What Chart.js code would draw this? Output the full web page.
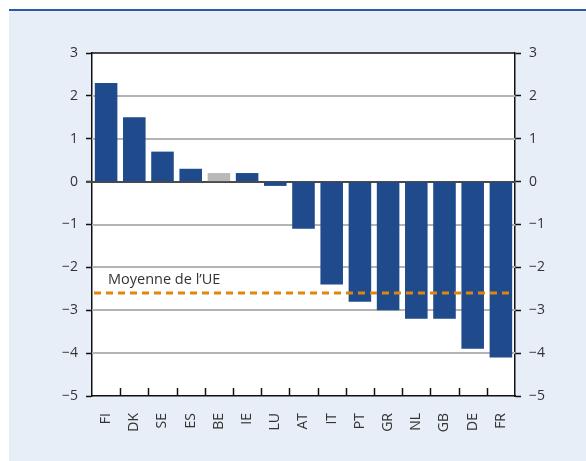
<!DOCTYPE html>
<html>
<head>
<meta charset="utf-8">
<script src="https://cdn.jsdelivr.net/npm/chart.js@4.4.1/dist/chart.umd.min.js"></script>
<style>
  html, body { margin: 0; padding: 0; background: #fff; }
  #wrap { width: 586px; height: 461px; position: relative; }
</style>
</head>
<body>
<div id="wrap"><canvas id="myChart"></canvas></div>
<script>
'use strict';

const countries = ['FI', 'DK', 'SE', 'ES', 'BE', 'IE', 'LU', 'AT', 'IT', 'PT', 'GR', 'NL', 'GB', 'DE', 'FR'];
const values = [2.3, 1.5, 0.7, 0.3, 0.2, 0.2, -0.1, -1.1, -2.4, -2.8, -3.0, -3.2, -3.2, -3.9, -4.1];
const highlighted = ['BE'];
const euAverage = -2.6;
const euLabel = 'Moyenne de l\u2019UE';
const yTicks = [3, 2, 1, 0, -1, -2, -3, -4, -5];

const BLUE = '#1f4a8b';
const GREY = '#b9b9b9';
const ORANGE = '#e0860f';
const RULE = '#b4b4b4';
const FONT = '"Open Sans", sans-serif';

const minus = v => (v < 0 ? '\u2212' + Math.abs(v) : String(v));

// light panel with the blue rule on top, white plot area
const panel = {
  id: 'panel',
  beforeDraw(chart) {
    const c = chart.ctx;
    const a = chart.chartArea;
    c.save();
    c.fillStyle = '#e7eef7';
    c.fillRect(9, 9, chart.width - 9, chart.height - 9);
    c.fillStyle = '#2c5aa0';
    c.fillRect(9, 9, chart.width - 9, 2);
    c.fillStyle = '#ffffff';
    c.fillRect(a.left, a.top, a.right - a.left, a.bottom - a.top);
    c.restore();
  }
};

// horizontal rules at each y tick, short upward ticks between categories, EU average line
const extras = {
  id: 'extras',
  beforeDatasetsDraw(chart) {
    const c = chart.ctx;
    const y = chart.scales.y;
    const a = chart.chartArea;
    c.save();
    yTicks.forEach(v => {
      if (v === 3 || v === -5) return;
      const py = Math.round(y.getPixelForValue(v));
      c.fillStyle = v === 0 ? '#4a4a4a' : RULE;
      const x0 = v === 0 ? a.left - 6 : a.left;
      c.fillRect(x0, py - 1, a.right - x0, 2);
    });
    c.restore();
  },
  afterDatasetsDraw(chart) {
    const c = chart.ctx;
    const x = chart.scales.x;
    const y = chart.scales.y;
    const a = chart.chartArea;
    c.save();
    c.strokeStyle = '#111';
    c.lineWidth = 1.5;
    for (let i = 1; i < countries.length; i++) {
      const px = Math.round((x.getPixelForValue(i - 1) + x.getPixelForValue(i)) / 2) + 0.5;
      c.beginPath();
      c.moveTo(px, a.bottom);
      c.lineTo(px, a.bottom - 8);
      c.stroke();
    }
    // top frame line
    c.beginPath();
    c.moveTo(a.left, a.top);
    c.lineTo(a.right, a.top);
    c.stroke();

    const py = y.getPixelForValue(euAverage);
    c.strokeStyle = ORANGE;
    c.lineWidth = 3;
    c.setLineDash([7, 5]);
    c.beginPath();
    c.moveTo(a.left + 2, py);
    c.lineTo(a.right - 2, py);
    c.stroke();
    c.setLineDash([]);
    c.fillStyle = '#333';
    c.font = '14.5px ' + FONT;
    c.textBaseline = 'alphabetic';
    c.fillText(euLabel, a.left + 16, py - 9);
    c.restore();
  }
};

const tickFont = { family: FONT, size: 14 };

new Chart(document.getElementById('myChart'), {
  type: 'bar',
  data: {
    labels: countries,
    datasets: [{
      data: values,
      backgroundColor: countries.map(c => (highlighted.includes(c) ? GREY : BLUE)),
      barPercentage: 0.8,
      categoryPercentage: 1
    }]
  },
  options: {
    responsive: true,
    maintainAspectRatio: false,
    animation: false,
    layout: { padding: { top: 53, left: 0, right: 0, bottom: 0 } },
    plugins: { legend: { display: false }, tooltip: { enabled: false } },
    scales: {
      x: {
        grid: { display: false },
        border: { display: true, color: '#111', width: 1.5 },
        ticks: { color: '#333', font: tickFont, minRotation: 90, maxRotation: 90, padding: 9 },
        afterFit(s) { s.height = 65; }
      },
      y: {
        position: 'left',
        min: -5,
        max: 3,
        afterBuildTicks(s) { s.ticks = yTicks.map(v => ({ value: v })); },
        grid: { drawOnChartArea: false, tickColor: '#111', tickWidth: 1.5, tickLength: 6 },
        border: { display: true, color: '#111', width: 1.5 },
        ticks: { color: '#333', font: tickFont, padding: 8, callback: minus },
        afterFit(s) { s.width = 92; }
      },
      y2: {
        position: 'right',
        min: -5,
        max: 3,
        afterBuildTicks(s) { s.ticks = yTicks.map(v => ({ value: v })); },
        grid: { drawOnChartArea: false, tickColor: '#111', tickWidth: 1.5, tickLength: 6 },
        border: { display: true, color: '#111', width: 1.5 },
        ticks: { color: '#333', font: tickFont, padding: 8, callback: minus },
        afterFit(s) { s.width = 71; }
      }
    }
  },
  plugins: [panel, extras]
});
</script>
</body>
</html>
